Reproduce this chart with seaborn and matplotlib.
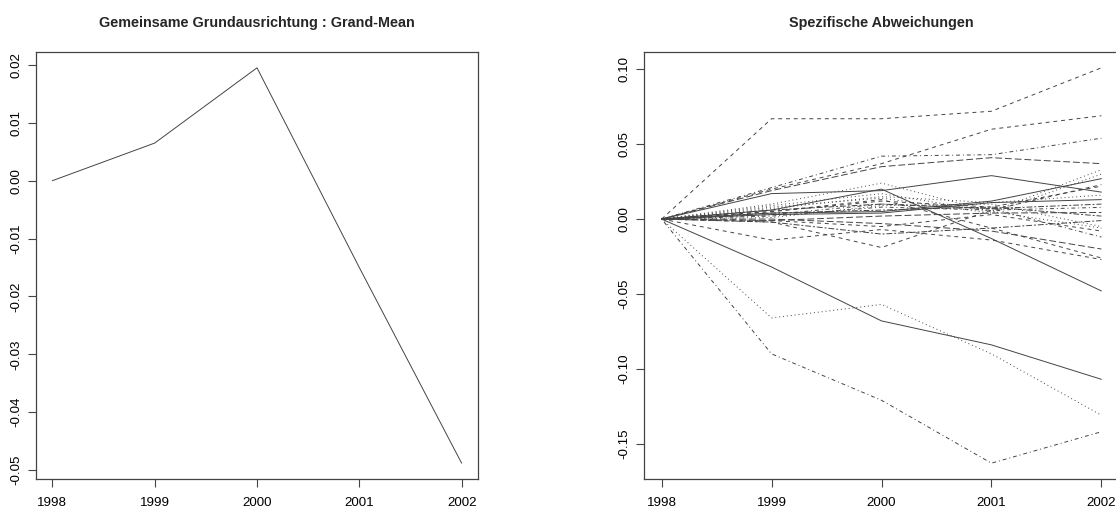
import numpy as np
import pandas as pd
import matplotlib
matplotlib.use("Agg")
import matplotlib.pyplot as plt
import seaborn as sns

# ---------------- data ----------------
years = [1998, 1999, 2000, 2001, 2002]
grand_mean = [0.0, 0.0065, 0.0195, -0.0150, -0.0488]

series_names = ["A", "B", "C", "D", "E", "F", "G", "H", "I", "J", "K", "L", "M", "N",
                "O", "P", "Q", "R", "S", "T", "U", "V", "W", "X", "Y", "Z", "AA", "AB"]
dev_A = [0, 0.067, 0.067, 0.072, 0.101]
dev_B = [0, 0.020, 0.037, 0.060, 0.069]
dev_C = [0, 0.021, 0.042, 0.043, 0.054]
dev_D = [0, 0.019, 0.035, 0.041, 0.037]
dev_E = [0, 0.017, 0.019, 0.029, 0.018]
dev_F = [0, 0.006, 0.020, -0.013, -0.048]
dev_G = [0, -0.032, -0.068, -0.084, -0.107]
dev_H = [0, -0.066, -0.057, -0.090, -0.131]
dev_I = [0, -0.090, -0.121, -0.163, -0.142]
dev_J = [0, -0.014, -0.007, -0.014, -0.027]
dev_K = [0, -0.002, -0.019, 0.006, 0.023]
dev_L = [0, 0.010, 0.024, 0.005, 0.033]
dev_M = [0, 0.004, 0.005, 0.012, 0.027]
dev_N = [0, 0.003, 0.004, 0.011, 0.013]
dev_O = [0, 0.006, 0.010, 0.007, 0.010]
dev_P = [0, 0.008, 0.014, 0.004, 0.030]
dev_Q = [0, 0.005, 0.012, 0.008, 0.022]
dev_R = [0, 0.002, 0.008, 0.006, 0.0078]
dev_S = [0, -0.001, 0.002, 0.004, 0.0044]
dev_T = [0, 0.004, 0.006, 0.008, 0.002]
dev_U = [0, 0.001, 0.009, 0.010, -0.005]
dev_V = [0, -0.001, -0.005, 0.003, -0.008]
dev_W = [0, 0.003, 0.010, 0.007, -0.012]
dev_X = [0, 0.000, -0.003, -0.008, -0.020]
dev_Y = [0, 0.005, 0.013, -0.006, -0.026]
dev_Z = [0, 0.007, 0.015, 0.011, 0.016]
dev_AA = [0, -0.002, -0.010, -0.006, -0.001]
dev_AB = [0, 0.009, 0.017, 0.005, -0.006]
deviations = [dev_A, dev_B, dev_C, dev_D, dev_E, dev_F, dev_G, dev_H, dev_I, dev_J,
              dev_K, dev_L, dev_M, dev_N, dev_O, dev_P, dev_Q, dev_R, dev_S, dev_T,
              dev_U, dev_V, dev_W, dev_X, dev_Y, dev_Z, dev_AA, dev_AB]
# R line types for each series
series_lty = ["dashed", "dashed", "dotdash", "longdash", "solid", "solid", "solid", "dotted",
              "dotdash", "dashed", "dashed", "dotted", "solid", "solid", "twodash", "dotted",
              "dashed", "dotdash", "longdash", "twodash", "dotted", "dashed", "dotdash",
              "longdash", "dashed", "dotted", "twodash", "dotted"]

# ---------------- styling ----------------
sns.set_theme(style="white")
plt.rcParams["font.family"] = ["Liberation Sans", "DejaVu Sans"]

lty_dash = {"solid": "", "dashed": (4, 4), "dotted": (1, 3), "dotdash": (1, 3, 4, 3),
            "longdash": (7, 3), "twodash": (2, 2, 6, 2)}
line_col = "#444444"
lw = 0.7

W, H = 1116, 511
fig = plt.figure(figsize=(W / 100, H / 100), dpi=100)


def px_axes(l, t, r, b):
    return fig.add_axes([l / W, 1 - b / H, (r - l) / W, (b - t) / H])


ax1 = px_axes(36, 52, 478, 479)
ax2 = px_axes(644, 52, 1119, 479)

# left panel
df_gm = pd.DataFrame({"year": years, "value": grand_mean})
sns.lineplot(data=df_gm, x="year", y="value", ax=ax1, color=line_col, lw=lw)
lo, hi = min(grand_mean), max(grand_mean)
ax1.set_ylim(lo - 0.04 * (hi - lo), hi + 0.04 * (hi - lo))
ax1.set_yticks([0.02, 0.01, 0.00, -0.01, -0.02, -0.03, -0.04, -0.05])
ax1.set_yticklabels(["0.02", "0.01", "0.00", "-0.01", "-0.02", "-0.03", "-0.04", "-0.05"])

# right panel
rows = []
for name, vals in zip(series_names, deviations):
    for y, v in zip(years, vals):
        rows.append({"series": name, "year": y, "value": v})
df_dev = pd.DataFrame(rows)
dash_map = {n: lty_dash[l] for n, l in zip(series_names, series_lty)}
sns.lineplot(data=df_dev, x="year", y="value", units="series", style="series",
             dashes=dash_map, estimator=None, ax=ax2, color=line_col, lw=lw,
             legend=False)
allv = np.concatenate([np.asarray(d, float) for d in deviations])
lo, hi = allv.min(), allv.max()
ax2.set_ylim(lo - 0.04 * (hi - lo), hi + 0.04 * (hi - lo))
ax2.set_yticks([0.10, 0.05, 0.00, -0.05, -0.10, -0.15])
ax2.set_yticklabels(["0.10", "0.05", "0.00", "-0.05", "-0.10", "-0.15"])

titles = ["Gemeinsame Grundausrichtung : Grand-Mean", "Spezifische Abweichungen"]
for ax, ttl in zip([ax1, ax2], titles):
    ax.set_xlim(1998 - 0.04 * 4, 2002 + 0.04 * 4)
    ax.set_xticks(years)
    ax.set_xticklabels([str(y) for y in years])
    ax.set_xlabel("")
    ax.set_ylabel("")
    ax.grid(False)
    for sp in ax.spines.values():
        sp.set_color("#444444")
        sp.set_linewidth(0.9)
        sp.set_visible(True)
    ax.tick_params(axis="both", which="both", direction="out", length=5.5, width=0.8,
                   color="#444444", labelsize=9.6, labelcolor="black",
                   bottom=True, left=True)
    ax.tick_params(axis="x", pad=7.5)
    ax.tick_params(axis="y", pad=4.5)
    for lab in ax.get_yticklabels():
        lab.set_rotation(90)
        lab.set_va("center")
    ax.set_title(ttl, fontsize=10.4, fontweight="bold", pad=18)

fig.savefig("out.png", dpi=100, facecolor="white")
